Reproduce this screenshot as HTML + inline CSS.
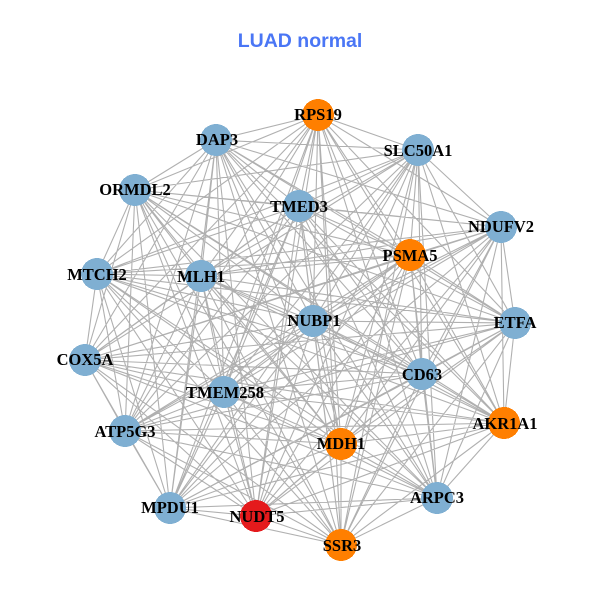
<!DOCTYPE html>
<html><head><meta charset="utf-8"><style>
html,body{margin:0;padding:0;background:#fff}
svg{display:block}
text.n{font-family:"Liberation Serif",serif;font-weight:bold;font-size:16.5px;text-anchor:middle;fill:#000}
text.t{font-family:"Liberation Sans",sans-serif;font-weight:bold;font-size:19.5px;text-anchor:middle;fill:#4a76f5}
</style></head><body>
<svg id="s" width="600" height="600" viewBox="0 0 600 600" xmlns="http://www.w3.org/2000/svg">
<rect width="600" height="600" fill="#fff"/>
<text class="t" x="300" y="47">LUAD normal</text>
<g id="e" stroke="#b0b0b0" stroke-width="1.1" fill="none"></g>
<g stroke="none" shape-rendering="crispEdges">
<circle cx="318" cy="115" r="16" fill="#ff7f00"/>
<circle cx="216" cy="140" r="16" fill="#7fafd2"/>
<circle cx="418" cy="150" r="16" fill="#7fafd2"/>
<circle cx="135" cy="190" r="16" fill="#7fafd2"/>
<circle cx="299" cy="206" r="16" fill="#7fafd2"/>
<circle cx="501" cy="227" r="16" fill="#7fafd2"/>
<circle cx="410" cy="255" r="16" fill="#ff7f00"/>
<circle cx="97" cy="274" r="16" fill="#7fafd2"/>
<circle cx="201" cy="276" r="16" fill="#7fafd2"/>
<circle cx="313" cy="321" r="16" fill="#7fafd2"/>
<circle cx="515" cy="323" r="16" fill="#7fafd2"/>
<circle cx="85" cy="360" r="16" fill="#7fafd2"/>
<circle cx="422" cy="374" r="16" fill="#7fafd2"/>
<circle cx="224" cy="392" r="16" fill="#7fafd2"/>
<circle cx="125" cy="431" r="16" fill="#7fafd2"/>
<circle cx="504" cy="423" r="16" fill="#ff7f00"/>
<circle cx="341" cy="444" r="16" fill="#ff7f00"/>
<circle cx="170" cy="508" r="16" fill="#7fafd2"/>
<circle cx="437" cy="498" r="16" fill="#7fafd2"/>
<circle cx="256" cy="516" r="16" fill="#e41a1c"/>
<circle cx="341" cy="545" r="16" fill="#ff7f00"/>
</g>
<g>
<text class="n" x="318" y="120">RPS19</text>
<text class="n" x="217" y="145">DAP3</text>
<text class="n" x="418" y="156">SLC50A1</text>
<text class="n" x="135" y="195">ORMDL2</text>
<text class="n" x="299" y="212">TMED3</text>
<text class="n" x="501" y="232">NDUFV2</text>
<text class="n" x="410" y="261">PSMA5</text>
<text class="n" x="97" y="280">MTCH2</text>
<text class="n" x="201" y="282">MLH1</text>
<text class="n" x="314" y="326">NUBP1</text>
<text class="n" x="515" y="328">ETFA</text>
<text class="n" x="85" y="365">COX5A</text>
<text class="n" x="422" y="380">CD63</text>
<text class="n" x="225" y="398">TMEM258</text>
<text class="n" x="125" y="437">ATP5G3</text>
<text class="n" x="505" y="429">AKR1A1</text>
<text class="n" x="341" y="449">MDH1</text>
<text class="n" x="170" y="513">MPDU1</text>
<text class="n" x="437" y="503">ARPC3</text>
<text class="n" x="257" y="522">NUDT5</text>
<text class="n" x="342" y="551">SSR3</text>
</g>
</svg>
<script>
var p=[[318,115],[216,140],[418,150],[135,190],[299,206],[501,227],[410,255],[97,274],[201,276],[313,321],[515,323],[85,360],[422,374],[224,392],[125,431],[504,423],[341,444],[170,508],[437,498],[256,516],[341,545]];
var d="";
for(var i=0;i<p.length;i++)for(var j=i+1;j<p.length;j++){
d+="M"+p[i][0]+" "+p[i][1]+"L"+p[j][0]+" "+p[j][1];
}
var e=document.createElementNS("http://www.w3.org/2000/svg","path");
e.setAttribute("d",d);
document.getElementById("e").appendChild(e);
</script>
</body></html>
